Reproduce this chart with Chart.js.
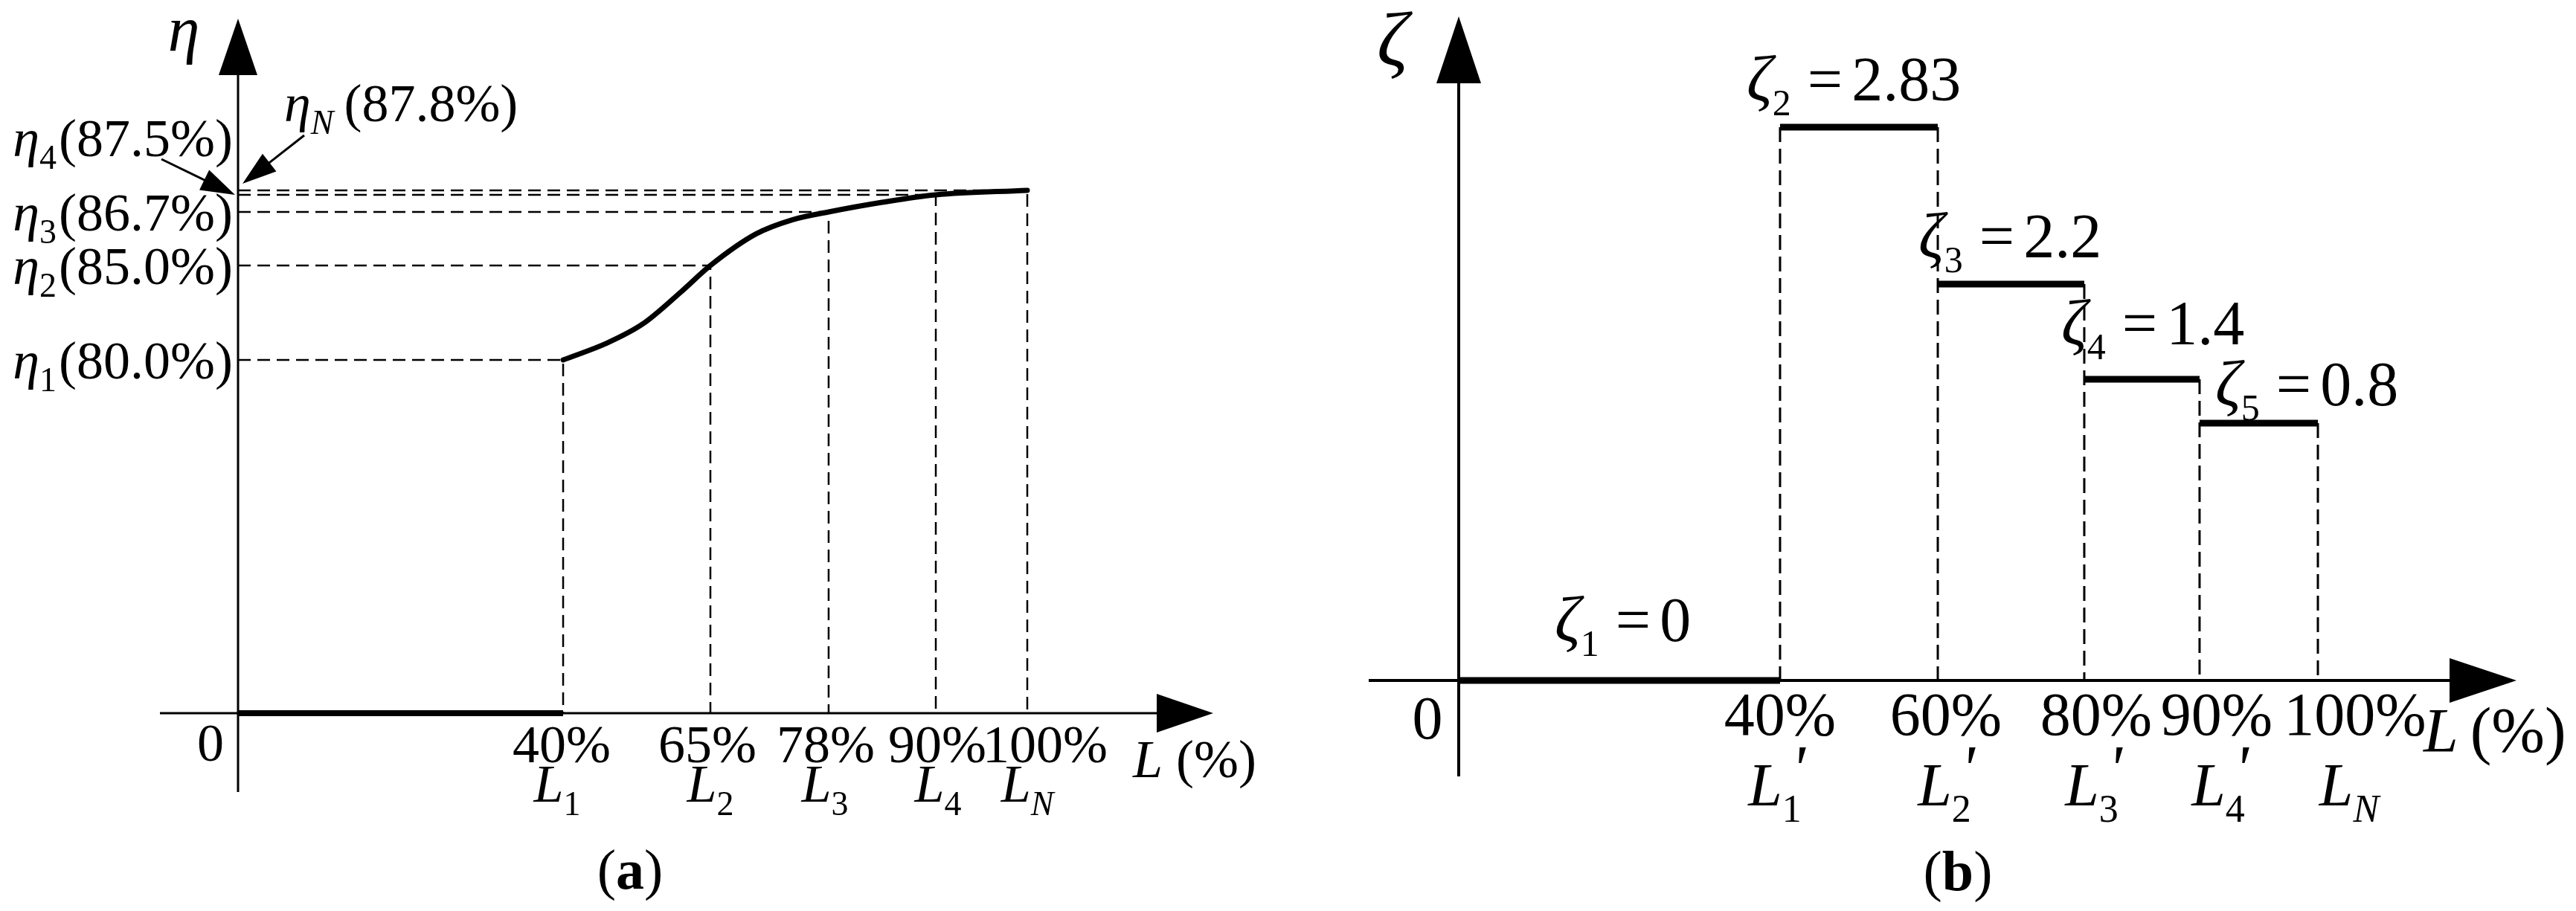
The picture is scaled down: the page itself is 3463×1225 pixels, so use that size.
<!DOCTYPE html>
<html>
<head>
<meta charset="utf-8">
<script src="https://cdn.jsdelivr.net/npm/chart.js@4.4.0/dist/chart.umd.min.js"></script>
<style>
  html, body { margin: 0; padding: 0; background: #fff; }
  #wrap { display: flex; width: 3463px; height: 1225px; }
  canvas { display: block; }
</style>
</head>
<body>
<div id="wrap">
  <canvas id="chart-a" width="1731" height="1225"></canvas>
  <canvas id="chart-b" width="1732" height="1225"></canvas>
</div>
<script>
// (a) efficiency at the marked load points
const loadPoints = [40, 65, 78, 90, 100];
const effPoints = [80.0, 85.0, 86.7, 87.5, 87.8];
const pointSubs = ['1', '2', '3', '4', 'N'];
// (a) efficiency curve
const curveLoad = [40, 47.5, 53.5, 60, 65, 70, 74, 78, 84, 90, 100];
const curveEff = [80.0, 80.9, 81.9, 83.6, 85.0, 86.0, 86.45, 86.7, 87.15, 87.5, 87.8];

// (b) step coefficient per load band
const stepEdges = [0, 40, 60, 80, 90, 100];
const zetaValues = [0, 2.83, 2.2, 1.4, 0.8];
const edgeSubs = ['1', '2', '3', '4', 'N'];

// layout (the drawing is schematic, axes are not to scale)
const stopsAx = [0, 0.4119, 0.5985, 0.7483, 0.8841, 1];
const stopsAy = [0, 0.6757, 0.8563, 0.9587, 0.9915, 1];
const stopsBx = [0, 0.3740, 0.5576, 0.7281, 0.8623, 1];
const stopsBy = [0, 0.4651, 0.5444, 0.7164, 1];
const pctShiftA = [-2, -4, -4, 2, 24];
const subShiftA = [-8, 0, -5, 3, 0];
const pctShiftB = [0, 11, 16, 23, 50];
const subShiftB = [-7, 9, 10, 25, 42];
const zetaDx = [129, -45, -26, -31, 21];
const zetaDy = [-53, -36, -36, -47, -24];

const SERIF = '"Liberation Serif", "Times New Roman", serif';
function f(size, style) { return (style ? style + ' ' : '') + size + 'px ' + SERIF; }

// piecewise linear scale, so the marked values sit where the drawing puts them
class PiecewiseScale extends Chart.LinearScale {
  frac(v) {
    const b = this.options.breaks, s = this.options.stops;
    let i = 1;
    while (i < b.length - 1 && v > b[i]) i++;
    return s[i - 1] + (v - b[i - 1]) / (b[i] - b[i - 1]) * (s[i] - s[i - 1]);
  }
  getPixelForValue(v) {
    const t = this.frac(v);
    return this.isHorizontal() ? this.left + t * this.width : this.bottom - t * this.height;
  }
  getValueForPixel(p) {
    const b = this.options.breaks, s = this.options.stops;
    const t = this.isHorizontal() ? (p - this.left) / this.width : (this.bottom - p) / this.height;
    let i = 1;
    while (i < s.length - 1 && t > s[i]) i++;
    return b[i - 1] + (t - s[i - 1]) / (s[i] - s[i - 1]) * (b[i] - b[i - 1]);
  }
}
PiecewiseScale.id = 'piecewise';
PiecewiseScale.defaults = Chart.LinearScale.defaults;
Chart.register(PiecewiseScale);

function runsWidth(ctx, runs) {
  let w = 0;
  runs.forEach(r => {
    if (r.gap !== undefined) { w += r.gap; return; }
    if (r.stay) return;
    ctx.font = r.font;
    w += ctx.measureText(r.t).width;
  });
  return w;
}
function drawRuns(ctx, runs, x, y, align) {
  const w = runsWidth(ctx, runs);
  let cx = align === 'center' ? x - w / 2 : align === 'right' ? x - w : x;
  runs.forEach(r => {
    if (r.gap !== undefined) { cx += r.gap; return; }
    ctx.font = r.font;
    ctx.fillText(r.t, cx + (r.dx || 0), y + (r.dy || 0));
    if (!r.stay) cx += ctx.measureText(r.t).width;
  });
}
function arrowHead(ctx, tx, ty, fx, fy, len, half) {
  const a = Math.atan2(ty - fy, tx - fx);
  const bx = tx - len * Math.cos(a), by = ty - len * Math.sin(a);
  const nx = -Math.sin(a) * half, ny = Math.cos(a) * half;
  ctx.beginPath();
  ctx.moveTo(tx, ty);
  ctx.lineTo(bx + nx, by + ny);
  ctx.lineTo(bx - nx, by - ny);
  ctx.closePath();
  ctx.fill();
}
function arrow(ctx, fx, fy, tx, ty, len, half, lw) {
  const a = Math.atan2(ty - fy, tx - fx);
  ctx.lineWidth = lw;
  ctx.beginPath();
  ctx.moveTo(fx, fy);
  ctx.lineTo(tx - (len - 2) * Math.cos(a), ty - (len - 2) * Math.sin(a));
  ctx.stroke();
  arrowHead(ctx, tx, ty, fx, fy, len, half);
}

const arrowAxes = {
  id: 'arrowAxes',
  beforeDatasetsDraw(chart, args, o) {
    const { ctx, chartArea, scales: { x, y } } = chart;
    const ox = x.getPixelForValue(0), oy = y.getPixelForValue(0);
    const xTip = chartArea.right + o.xTip, yTip = chartArea.top - o.yTip;
    ctx.save();
    ctx.strokeStyle = '#000';
    ctx.fillStyle = '#000';
    ctx.lineWidth = o.width;
    ctx.beginPath();
    ctx.moveTo(ox - o.xBack, oy);
    ctx.lineTo(xTip - o.headLen + 2, oy);
    ctx.moveTo(ox, oy + o.yBack);
    ctx.lineTo(ox, yTip + o.headLen - 2);
    ctx.stroke();
    arrowHead(ctx, xTip, oy, ox, oy, o.headLen, o.headHalf);
    arrowHead(ctx, ox, yTip, ox, oy, o.headLen, o.headHalf);
    ctx.restore();
  }
};

const labelsA = {
  id: 'labelsA',
  afterDraw(chart) {
    const { ctx, chartArea, scales: { x, y } } = chart;
    const ox = x.getPixelForValue(0), oy = y.getPixelForValue(0);
    const px = v => x.getPixelForValue(v), py = v => y.getPixelForValue(v);
    ctx.save();
    ctx.fillStyle = '#000';
    ctx.strokeStyle = '#000';
    ctx.textBaseline = 'alphabetic';

    drawRuns(ctx, [{ t: 'η', font: f(86, 'italic') }], ox - 73, 68, 'center');

    effPoints.forEach((v, i) => {
      const sub = pointSubs[i];
      const runs = [
        { t: 'η', font: f(72, 'italic') },
        { t: sub, font: f(46, sub === 'N' ? 'italic' : ''), dy: 17 },
        { gap: sub === 'N' ? 14 : 3 },
        { t: '(' + v.toFixed(1) + '%)', font: f(72) }
      ];
      if (sub === 'N') drawRuns(ctx, runs, ox + 62, py(v) - 93, 'left');
      else if (i === 3) drawRuns(ctx, runs, ox - 7, py(v) - 52, 'right');
      else drawRuns(ctx, runs, ox - 7, py(v) + 25, 'right');
    });

    // pointer arrows for the two top labels
    arrow(ctx, ox - 103, py(effPoints[3]) - 48, ox - 4, py(effPoints[3]), 46, 15, 3);
    arrow(ctx, ox + 89, py(effPoints[4]) - 74, ox + 6, py(effPoints[4]) - 9, 46, 15, 3);

    loadPoints.forEach((v, i) => {
      drawRuns(ctx, [{ t: v + '%', font: f(72) }], px(v) + pctShiftA[i], oy + 66, 'center');
      const sub = pointSubs[i];
      drawRuns(ctx, [
        { t: 'L', font: f(72, 'italic') },
        { t: sub, font: f(46, sub === 'N' ? 'italic' : ''), dy: 18 }
      ], px(v) + subShiftA[i], oy + 119, 'center');
    });
    drawRuns(ctx, [{ t: '0', font: f(72) }], ox - 37, oy + 64, 'center');
    drawRuns(ctx, [
      { t: 'L', font: f(72, 'italic') }, { gap: 18 }, { t: '(%)', font: f(72) }
    ], chartArea.right + 142, oy + 86, 'left');

    drawRuns(ctx, [
      { t: '(', font: f(76) }, { t: 'a', font: f(76, 'bold') }, { t: ')', font: f(76) }
    ], 847, 1195, 'center');
    ctx.restore();
  }
};

const labelsB = {
  id: 'labelsB',
  afterDraw(chart) {
    const { ctx, chartArea, scales: { x, y } } = chart;
    const ox = x.getPixelForValue(0), oy = y.getPixelForValue(0);
    const px = v => x.getPixelForValue(v), py = v => y.getPixelForValue(v);
    ctx.save();
    ctx.fillStyle = '#000';
    ctx.textBaseline = 'alphabetic';

    drawRuns(ctx, [{ t: 'ζ', font: f(104, 'italic') }], ox - 89, 88, 'center');

    zetaValues.forEach((v, i) => {
      drawRuns(ctx, [
        { t: 'ζ', font: f(86, 'italic') },
        { t: String(i + 1), font: f(50), dy: 20 },
        { gap: 22 },
        { t: '=', font: f(84) },
        { gap: 12 },
        { t: String(v), font: f(84) }
      ], px(stepEdges[i]) + zetaDx[i], py(v) + zetaDy[i], 'left');
    });

    stepEdges.slice(1).forEach((v, i) => {
      drawRuns(ctx, [{ t: v + '%', font: f(82) }], px(v) + pctShiftB[i], oy + 73, 'center');
      const sub = edgeSubs[i];
      const runs = [{ t: 'L', font: f(82, 'italic') }];
      if (sub !== 'N') runs.push({ t: "'", font: f(88, 'italic'), dy: -20, dx: 12, stay: true });
      runs.push({ t: sub, font: f(52, sub === 'N' ? 'italic' : ''), dy: 22 });
      drawRuns(ctx, runs, px(v) + subShiftB[i], oy + 168, 'center');
    });
    drawRuns(ctx, [{ t: '0', font: f(82) }], ox - 42, oy + 78, 'center');
    drawRuns(ctx, [
      { t: 'L', font: f(84, 'italic') }, { gap: 16 }, { t: '(%)', font: f(86) }
    ], chartArea.right + 142, oy + 96, 'left');

    drawRuns(ctx, [
      { t: '(', font: f(76) }, { t: 'b', font: f(76, 'bold') }, { t: ')', font: f(76) }
    ], 901, 1197, 'center');
    ctx.restore();
  }
};

function lineSet(points, width, dash, extra) {
  return Object.assign({
    data: points,
    borderColor: '#000',
    borderWidth: width,
    borderDash: dash || [],
    pointRadius: 0,
    fill: false,
    tension: 0,
    clip: false,
    borderCapStyle: 'butt'
  }, extra || {});
}

function baseOptions(padding, xb, xs, yb, ys, axesOpts) {
  return {
    responsive: false,
    animation: false,
    events: [],
    layout: { padding: padding },
    scales: {
      x: { type: 'piecewise', min: xb[0], max: xb[xb.length - 1], breaks: xb, stops: xs, display: false },
      y: { type: 'piecewise', min: yb[0], max: yb[yb.length - 1], breaks: yb, stops: ys, display: false }
    },
    plugins: {
      legend: { display: false },
      tooltip: { enabled: false },
      arrowAxes: axesOpts
    }
  };
}

// panel (a)
const setsA = [
  lineSet(curveLoad.map((v, i) => ({ x: v, y: curveEff[i] })), 7, null,
    { cubicInterpolationMode: 'monotone', borderCapStyle: 'round' }),
  lineSet([{ x: 0, y: 0 }, { x: loadPoints[0], y: 0 }], 8)
].concat(loadPoints.map((v, i) => lineSet([
  { x: 0, y: effPoints[i] }, { x: v, y: effPoints[i] }, { x: v, y: 0 }
], 2.5, [17, 9])));

new Chart(document.getElementById('chart-a'), {
  type: 'line',
  data: { datasets: setsA },
  options: baseOptions(
    { left: 320, right: 350, top: 256, bottom: 266 },
    [0].concat(loadPoints), stopsAx,
    [0].concat(effPoints), stopsAy,
    { width: 3, xBack: 105, yBack: 106, xTip: 250, yTip: 231, headLen: 76, headHalf: 26 }
  ),
  plugins: [arrowAxes, labelsA]
});

// panel (b)
const setsB = zetaValues.map((v, i) => lineSet([
  { x: stepEdges[i], y: v }, { x: stepEdges[i + 1], y: v }
], 9)).concat(stepEdges.slice(1).map((e, i) => {
  const top = Math.max(zetaValues[i], i + 1 < zetaValues.length ? zetaValues[i + 1] : 0);
  return lineSet([{ x: e, y: top }, { x: e, y: 0 }], 3, [20, 9]);
}));

const zetaSorted = zetaValues.slice().sort((a, b) => a - b);

new Chart(document.getElementById('chart-b'), {
  type: 'line',
  data: { datasets: setsB },
  options: baseOptions(
    { left: 230, right: 347, top: 171, bottom: 310 },
    stepEdges, stopsBx,
    zetaSorted, stopsBy,
    { width: 4, xBack: 121, yBack: 129, xTip: 267, yTip: 149, headLen: 90, headHalf: 30 }
  ),
  plugins: [arrowAxes, labelsB]
});
</script>
</body>
</html>
